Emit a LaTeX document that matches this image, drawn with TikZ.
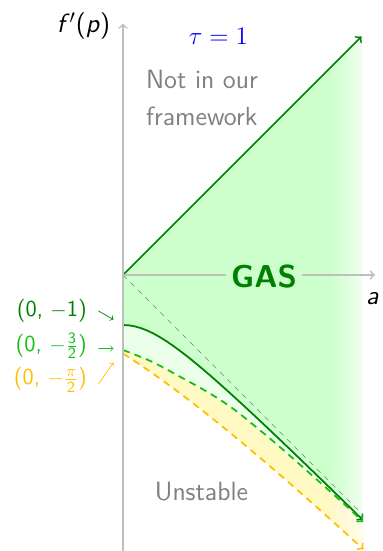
\documentclass[tikz,border=0pt]{standalone}
\usepackage{amsmath}
\usetikzlibrary{fadings}

\definecolor{gasgreen}{RGB}{0,128,0}
\definecolor{bndgreen}{RGB}{20,190,20}
\definecolor{bndorange}{RGB}{255,190,0}
\definecolor{unstyellow}{RGB}{255,249,196}

\tikzfading[name=fade end, left color=transparent!100, right color=transparent!30]

\tikzset{
  axisline/.style={black!25, line width=1pt, ->},
  bound/.style={line width=1pt, ->},
  dashbound/.style={line width=1pt, ->, dash pattern=on 4pt off 3pt},
  regiontext/.style={black!50, align=left, font=\fontsize{15}{21}\selectfont\sffamily},
  ptlabel/.style={font=\fontsize{13}{15}\selectfont\sffamily, anchor=east, inner xsep=6.5pt, inner ysep=0pt},
}

\begin{document}
\begin{tikzpicture}[font=\fontsize{15}{18}\selectfont\sffamily]
\useasboundingbox (-2.46,-5.52) rectangle (5.2,5.5);

% regions
\fill[green!20] (0,0) -- (4.78,4.78) -- plot[domain=4.78:0, samples=40] (\x,{-sqrt(1+\x*\x)}) -- cycle;
\fill[green!8] plot[domain=0:4.8, samples=40] (\x,{-sqrt(1+\x*\x)})
  -- plot[smooth] coordinates {(4.8,-4.94) (4.51,-4.66) (3.74,-3.97) (3.01,-3.33) (2.25,-2.71) (1.74,-2.37) (1.17,-2.05) (0.57,-1.73) (0,-1.5)} -- cycle;
\fill[unstyellow] plot[smooth] coordinates {(0,-1.5) (0.57,-1.73) (1.17,-2.05) (1.74,-2.37) (2.25,-2.71) (3.01,-3.33) (3.74,-3.97) (4.51,-4.66) (4.8,-4.94)}
  -- plot[domain=2.64:1.5708, samples=40, variable=\w] ({-\w*cot(\w r)},{-sqrt((\w*cot(\w r))^2+\w*\w)}) -- cycle;
\fill[white, path fading=fade end] (4.1,-5.6) rectangle (4.8,4.8);

% boundaries
\draw[black!50, dashed, thin] (0,0) -- (4.72,-4.72);
\draw[gasgreen, bound] (0,0) -- (4.77,4.77);
\draw[gasgreen, bound] plot[domain=0:4.8, samples=40] (\x,{-sqrt(1+\x*\x)});
\draw[bndgreen, dashbound] plot[smooth] coordinates {(0,-1.5) (0.57,-1.73) (1.17,-2.05) (1.74,-2.37) (2.25,-2.71) (3.01,-3.33) (3.74,-3.97) (4.51,-4.66) (4.8,-4.94)};
\draw[bndorange, dashbound] plot[domain=1.5708:2.64, samples=40, variable=\w] ({-\w*cot(\w r)},{-sqrt((\w*cot(\w r))^2+\w*\w)});

% axes
\draw[axisline] (0,-5.52) -- (0,5.03);
\draw[axisline] (0,0) -- (5.04,0);
\node[fill=green!20, text=gasgreen, font=\fontsize{18}{20}\selectfont\sffamily\bfseries, inner sep=3pt] (gas) at (2.82,-0.03) {GAS};
\node (flab) at (-0.79,4.98) {\textit{f}$'$(\textit{p})};
\node (alab) at (4.99,-0.48) {\textit{a}};
\node[text=blue] (tau) at (1.91,4.77) {$\tau = 1$};
\node[regiontext] (notin) at (1.58,3.54) {Not in our\\framework};
\node[regiontext] (unstable) at (1.57,-4.33) {Unstable};

% starting points
\node[ptlabel, text=gasgreen] (lone) at (-0.49,-0.72) {(0, $-$1)};
\node[ptlabel, text=bndgreen] (lthree) at (-0.49,-1.42) {(0, $-\frac{\mathsf{3}}{\mathsf{2}}$)};
\node[ptlabel, text=bndorange] (lpi) at (-0.49,-2.1) {(0, $-\frac{\pi}{\mathsf{2}}$)};
\coordinate (cone) at (-0.19,-0.89);
\coordinate (cthree) at (-0.19,-1.47);
\coordinate (cpi) at (-0.19,-1.75);
\draw[->, gasgreen] (lone.east) -- (cone);
\draw[->, bndgreen] ([yshift=-0.05cm]lthree.east) -- (cthree);
\draw[->, bndorange] ([yshift=-0.08cm]lpi.east) -- (cpi);

\end{tikzpicture}
\end{document}
